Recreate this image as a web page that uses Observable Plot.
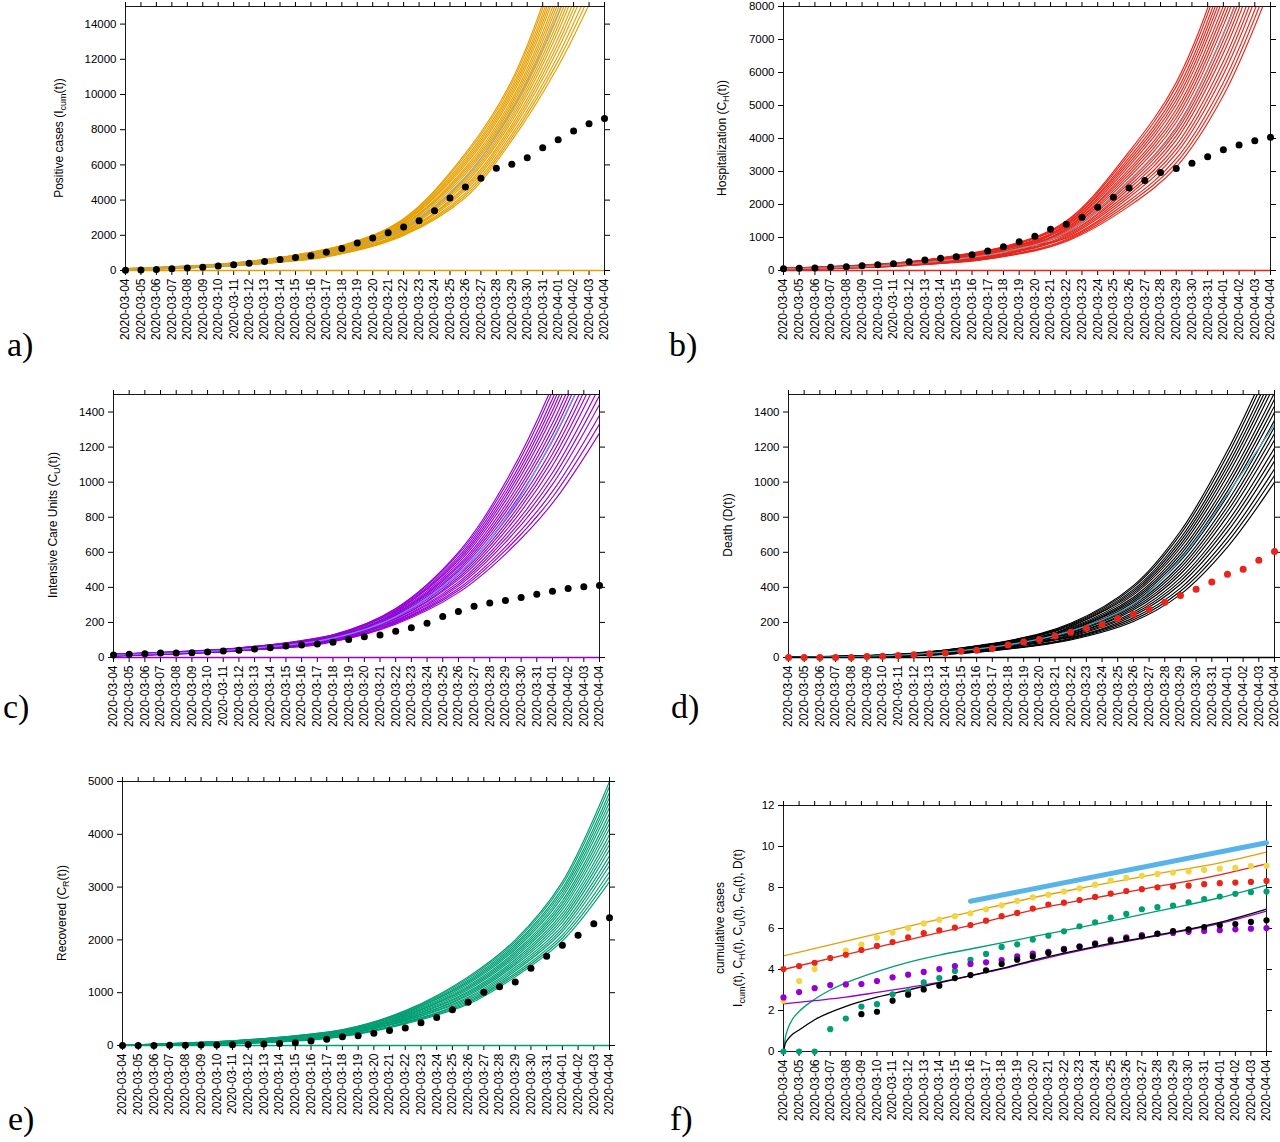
<!DOCTYPE html>
<html>
<head>
<meta charset="utf-8">
<script src="https://cdn.jsdelivr.net/npm/d3@7"></script>
<script src="https://cdn.jsdelivr.net/npm/@observablehq/plot@0.6"></script>
<style>
  html, body { margin: 0; padding: 0; background: #fff; }
  #root { position: relative; width: 1280px; height: 1142px; background: #fff; overflow: hidden; }
  .panel { position: absolute; }
  #labels { position: absolute; left: 0; top: 0; pointer-events: none; }
</style>
</head>
<body>
<div id="root"></div>
<script>
// ---------- tick labels ----------
const dates = ["2020-03-04","2020-03-05","2020-03-06","2020-03-07","2020-03-08","2020-03-09","2020-03-10","2020-03-11","2020-03-12","2020-03-13","2020-03-14","2020-03-15","2020-03-16","2020-03-17","2020-03-18","2020-03-19","2020-03-20","2020-03-21","2020-03-22","2020-03-23","2020-03-24","2020-03-25","2020-03-26","2020-03-27","2020-03-28","2020-03-29","2020-03-30","2020-03-31","2020-04-01","2020-04-02","2020-04-03","2020-04-04"];
const aTicks = [0, 2000, 4000, 6000, 8000, 10000, 12000, 14000];
const bTicks = [0, 1000, 2000, 3000, 4000, 5000, 6000, 7000, 8000];
const cTicks = [0, 200, 400, 600, 800, 1000, 1200, 1400];
const dTicks = [0, 200, 400, 600, 800, 1000, 1200, 1400];
const eTicks = [0, 1000, 2000, 3000, 4000, 5000];
const fTicks = [0, 2, 4, 6, 8, 10, 12];

// ---------- observed data (one value per day, 03-04 .. 04-04) ----------
const casesData = [12,31,56,96,137,183,257,330,416,518,620,735,845,1033,1249,1556,1840,2150,2470,2830,3400,4120,4750,5240,5810,6040,6400,6970,7430,7920,8340,8640];
const hospData  = [56,65,76,96,112,141,172,208,262,320,369,420,477,590,720,870,1040,1250,1400,1610,1920,2220,2500,2730,2970,3090,3250,3450,3660,3800,3930,4040];
const icuData   = [14,18,22,25,26,27,31,37,42,48,56,65,71,77,87,103,118,129,150,169,196,234,262,292,311,325,342,361,378,393,404,410];
const deathData = [0,0,0,0,0,6,7,12,16,21,25,36,42,52,72,88,103,123,144,165,188,222,247,275,315,353,389,431,475,503,555,604];
const recovData = [1,1,1,3,5,9,10,16,19,29,36,51,87,117,164,187,234,284,330,430,530,675,820,1010,1115,1205,1465,1690,1900,2090,2305,2420];

// ---------- ensemble runs (values at knot days) ----------
const knotDays = [0, 8, 14, 18, 22, 25, 28, 31];
const aCurves = [
  [40,330,950,1990,4150,7390,11600,17000],
  [44,340,974,2038,4275,7560,11910,17550],
  [47,349,997,2085,4400,7731,12220,18100],
  [51,360,1025,2142,4550,7936,12592,18760],
  [55,370,1049,2190,4675,8106,12902,19310],
  [103,500,1370,2237,4800,8277,13212,19860],
  [62,391,1100,2294,4950,8481,13584,20520],
  [66,400,1124,2342,5075,8652,13894,21070],
  [69,410,1147,2389,5200,8822,14204,21620],
  [107,511,1397,2437,5325,8993,14514,22170],
  [77,431,1199,2494,5475,9197,14886,22830],
  [44,340,974,2541,5600,9368,15196,23380],
  [84,450,1246,2589,5725,9538,15506,23930],
  [88,459,1270,2636,5850,9709,15816,24480],
  [47,350,1000,2693,6000,9913,16188,25140],
  [95,480,1321,2741,6125,10084,16498,25690],
  [99,490,1345,2788,6250,10254,16808,26240],
  [102,499,1368,2836,6375,10425,17118,26790],
  [107,511,1397,2893,6525,10630,17490,27450],
  [110,520,1420,2940,6650,10800,17800,28000]
];
const aCenter = [72,420,1170,2420,5300,9100,14600,22000];

const bCurves = [
  [20,150,420,880,1950,3130,5300,8600],
  [23,156,435,911,2033,3259,5500,8870],
  [25,162,450,942,2115,3387,5700,9140],
  [65,255,680,979,2214,3541,5940,9464],
  [31,175,483,1010,2297,3670,6140,9734],
  [33,181,498,1041,2379,3798,6340,10004],
  [36,188,516,1078,2478,3952,6580,10328],
  [68,262,700,1109,2561,4081,6780,10598],
  [41,200,546,1140,2643,4209,6980,10868],
  [44,206,561,1171,2726,4338,7180,11138],
  [47,214,579,1209,2825,4492,7420,11462],
  [49,220,594,1240,2907,4621,7620,11732],
  [24,160,445,1271,2990,4749,7820,12002],
  [54,232,624,1302,3072,4878,8020,12272],
  [57,239,642,1339,3171,5032,8260,12596],
  [60,245,657,1370,3254,5160,8460,12866],
  [28,170,470,1401,3336,5289,8660,13136],
  [65,257,687,1432,3419,5417,8860,13406],
  [68,264,705,1469,3518,5572,9100,13730],
  [70,270,720,1500,3600,5700,9300,14000]
];
const bCenter = [45,205,560,1150,2700,4300,7150,11000];

const cCurves = [
  [8,38,90,190,370,590,880,1280],
  [9,39,92,195,382,611,914,1331],
  [9,40,94,199,393,631,947,1382],
  [18,52,124,204,407,656,987,1443],
  [11,42,98,209,418,676,1021,1494],
  [11,42,100,213,430,697,1054,1545],
  [12,43,103,219,444,721,1094,1606],
  [19,54,128,223,455,742,1128,1657],
  [13,45,107,228,467,762,1161,1708],
  [14,46,109,232,478,783,1195,1759],
  [14,47,111,238,492,807,1235,1821],
  [9,39,92,242,503,828,1269,1872],
  [16,49,115,247,515,848,1302,1923],
  [16,50,117,251,526,869,1336,1974],
  [17,51,120,257,540,893,1376,2035],
  [10,41,96,261,552,914,1409,2086],
  [18,52,124,266,563,934,1443,2137],
  [19,53,126,270,575,955,1476,2188],
  [19,54,128,276,589,980,1517,2249],
  [20,55,130,280,600,1000,1550,2300]
];
const cCenter = [14,46,110,232,480,790,1240,1800];

const dCurves = [
  [0,10,48,100,205,360,630,1000],
  [0,11,50,105,215,378,658,1038],
  [0,12,53,110,226,396,685,1075],
  [3,23,88,115,238,418,718,1120],
  [1,13,58,120,248,436,746,1158],
  [1,14,60,125,258,454,773,1195],
  [1,15,63,130,271,475,806,1240],
  [3,24,92,135,281,493,834,1278],
  [1,16,68,140,291,511,861,1315],
  [1,17,70,145,301,529,889,1353],
  [2,18,73,150,314,551,922,1398],
  [0,11,52,155,324,569,949,1435],
  [2,19,78,160,334,587,977,1473],
  [2,20,80,165,344,605,1004,1510],
  [2,21,83,170,357,626,1037,1555],
  [0,12,55,175,367,644,1065,1593],
  [3,23,87,180,377,662,1092,1630],
  [3,23,90,185,387,680,1120,1668],
  [3,24,93,190,400,702,1153,1713],
  [3,25,95,195,410,720,1180,1750]
];
const dCenter = [1,18,72,150,305,560,930,1330];

const eCurves = [
  [0,40,170,410,780,1300,1980,3100],
  [0,44,177,423,806,1335,2036,3195],
  [1,47,183,435,832,1370,2092,3290],
  [4,100,280,450,863,1412,2159,3404],
  [1,55,197,463,889,1447,2215,3499],
  [1,58,204,475,915,1482,2271,3594],
  [2,62,212,490,946,1524,2338,3708],
  [5,106,292,503,972,1559,2394,3803],
  [2,69,225,515,998,1594,2450,3898],
  [2,73,231,528,1024,1629,2506,3993],
  [3,77,239,543,1056,1671,2574,4107],
  [0,45,178,555,1082,1706,2630,4202],
  [3,84,252,568,1108,1741,2686,4297],
  [3,88,258,580,1134,1776,2742,4392],
  [4,92,266,595,1165,1818,2809,4506],
  [1,50,190,608,1191,1853,2865,4601],
  [4,99,279,620,1217,1888,2921,4696],
  [4,102,286,633,1243,1923,2977,4791],
  [5,107,294,648,1274,1965,3044,4905],
  [5,110,300,660,1300,2000,3100,5000]
];

// ---------- panel f: log values ----------
const fIcumDots = [2.48,3.44,4.02,4.56,4.92,5.21,5.55,5.80,6.03,6.25,6.43,6.60,6.74,6.94,7.13,7.35,7.52,7.65,7.80,7.96,8.14,8.34,8.47,8.57,8.66,8.73,8.79,8.86,8.92,8.96,9.04,9.06];
const fHospDots = [4.02,4.17,4.33,4.56,4.72,4.95,5.15,5.34,5.57,5.77,5.91,6.04,6.17,6.38,6.60,6.76,6.97,7.17,7.26,7.39,7.54,7.70,7.83,7.92,8.01,8.05,8.09,8.16,8.21,8.24,8.27,8.32];
const fRecDots  = [0,0,0,1.09,1.61,2.19,2.31,2.79,2.94,3.37,3.58,3.93,4.47,4.76,5.10,5.23,5.46,5.65,5.86,6.11,6.30,6.53,6.71,6.94,7.04,7.12,7.28,7.44,7.56,7.69,7.77,7.80];
const fIcuDots  = [2.64,2.90,3.09,3.24,3.27,3.29,3.44,3.62,3.75,3.88,4.02,4.17,4.27,4.35,4.46,4.64,4.77,4.86,5.01,5.13,5.28,5.46,5.57,5.68,5.74,5.78,5.84,5.88,5.92,5.96,5.99,6.02];
const fDeathDots= [null,null,null,null,null,1.82,1.94,2.48,2.77,3.03,3.21,3.58,3.73,3.96,4.27,4.48,4.64,4.81,4.97,5.11,5.24,5.40,5.51,5.62,5.75,5.87,5.96,6.07,6.16,6.22,6.32,6.40];

const fIcumLineX = [0,4,8,12,16,20,24,28,31];
const fIcumLineY = [4.67,5.38,6.1,6.8,7.5,8.1,8.67,9.2,9.72];
const fHospLineX = [0,4,8,12,16,20,24,28,31];
const fHospLineY = [4.0,4.72,5.45,6.15,6.9,7.5,8.05,8.62,9.15];
const fRecLineX  = [0,0.1,0.3,0.6,1,2,3,4,6,8,10,12,14,16,20,24,28,31];
const fRecLineY  = [0,0.6,1.15,1.6,1.95,2.55,3.0,3.35,3.9,4.35,4.7,5.0,5.3,5.6,6.2,6.85,7.5,8.12];
const fDeathLineX= [0,0.1,0.3,0.6,1,2,4,6,8,10,12,14,16,20,24,28,31];
const fDeathLineY= [0,0.35,0.62,0.85,1.05,1.55,2.2,2.65,3.0,3.35,3.7,4.05,4.45,5.12,5.68,6.3,6.95];
const fIcuLineX  = [0,2,4,6,8,10,12,14,16,20,24,28,31];
const fIcuLineY  = [2.32,2.48,2.65,2.88,3.12,3.38,3.7,4.02,4.4,5.08,5.65,6.25,6.85];
const fSlopeX = [12, 31];
const fSlopeY = [7.33, 10.18];

// ---------- helpers ----------
const FONT = "'Liberation Sans', Arial, Helvetica, sans-serif";
const dayIdx = dates.map((d, i) => i);
const intFmt = d3.format("d");

function axes(yTicks) {
  return [
    Plot.frame({stroke: "#1a1a1a", strokeWidth: 1}),
    Plot.axisX({anchor: "bottom", ticks: dayIdx, tickFormat: i => dates[i], tickRotate: -90, tickSize: 5, tickPadding: 3, label: null, fontSize: 12}),
    Plot.axisX({anchor: "top", ticks: dayIdx, tickFormat: () => "", tickSize: 5, label: null}),
    Plot.axisY({anchor: "left", ticks: yTicks, tickFormat: intFmt, tickSize: 5, tickPadding: 4, label: null}),
    Plot.axisY({anchor: "right", ticks: yTicks, tickFormat: () => "", tickSize: 5, label: null})
  ];
}

function place(svg, left, top) {
  const wrap = document.createElement("div");
  wrap.className = "panel";
  wrap.style.left = left + "px";
  wrap.style.top = top + "px";
  wrap.appendChild(svg);
  document.getElementById("root").appendChild(wrap);
}

// rotated axis label built from segments [text, isSub]
function yLabel(svg, x, y, segs) {
  const t = d3.select(svg).append("text")
    .attr("transform", `translate(${x},${y}) rotate(-90)`)
    .attr("text-anchor", "middle")
    .attr("font-family", FONT)
    .attr("font-size", 12)
    .attr("fill", "#000");
  let sub = false;
  segs.forEach(([s, isSub]) => {
    const sp = t.append("tspan").text(s);
    if (isSub && !sub) { sp.attr("dy", 3).attr("font-size", 9); sub = true; }
    else if (isSub) { sp.attr("font-size", 9); }
    else if (!isSub && sub) { sp.attr("dy", -3); sub = false; }
  });
}

function ensemblePanel({curves, center, color, centerColor, data, dotColor, yMax, yTicks, left, top, width, height, mt, mb, ml, mr}) {
  const runs = curves.flatMap((c, i) => c.map((v, j) => ({x: knotDays[j], y: v, run: i})));
  const mid = center ? center.map((v, j) => ({x: knotDays[j], y: v})) : [];
  const obs = data.map((v, i) => ({x: i, y: v}));
  const svg = Plot.plot({
    width, height, marginTop: mt, marginBottom: mb, marginLeft: ml, marginRight: mr,
    style: {fontFamily: FONT, fontSize: "11.5px", color: "#000", background: "transparent", overflow: "visible"},
    x: {domain: [0, 31]},
    y: {domain: [0, yMax]},
    marks: [
      Plot.line(runs, {x: "x", y: "y", z: "run", stroke: color, strokeWidth: 1.15, curve: "catmull-rom", clip: true}),
      center ? Plot.line(mid, {x: "x", y: "y", stroke: centerColor, strokeWidth: 1.3, curve: "catmull-rom", clip: true}) : null,
      ...axes(yTicks),
      Plot.ruleY([0], {stroke: color, strokeWidth: 1.5}),
      Plot.dot(obs, {x: "x", y: "y", r: 3.5, fill: dotColor, stroke: "none"})
    ]
  });
  place(svg, left, top);
  return svg;
}

// ---------- panels ----------
const svgA = ensemblePanel({curves: aCurves, center: aCenter, color: "#E69F00", centerColor: "#a5ad8e", data: casesData, dotColor: "#000",
  yMax: 15000, yTicks: aTicks, left: 0, top: 0, width: 640, height: 360, mt: 6, mb: 90, ml: 125, mr: 36});
yLabel(svgA, 63, 138, [["Positive cases (I", false], ["cum", true], ["(t))", false]]);

const svgB = ensemblePanel({curves: bCurves, center: bCenter, color: "#e8251a", centerColor: "#a08c9c", data: hospData, dotColor: "#000",
  yMax: 8000, yTicks: bTicks, left: 640, top: 0, width: 640, height: 360, mt: 6, mb: 90, ml: 143, mr: 10});
yLabel(svgB, 86, 138, [["Hospitalization (C", false], ["H", true], ["(t))", false]]);

const svgC = ensemblePanel({curves: cCurves, center: cCenter, color: "#9400d3", centerColor: "#6a8ff0", data: icuData, dotColor: "#000",
  yMax: 1500, yTicks: cTicks, left: 0, top: 380, width: 640, height: 380, mt: 14, mb: 103, ml: 113, mr: 41});
yLabel(svgC, 56.5, 145, [["Intensive Care Units (C", false], ["U", true], ["(t))", false]]);

const svgD = ensemblePanel({curves: dCurves, center: dCenter, color: "#000", centerColor: "#4ba3c6", data: deathData, dotColor: "#e8251a",
  yMax: 1500, yTicks: dTicks, left: 640, top: 380, width: 640, height: 380, mt: 14, mb: 103, ml: 148, mr: 6});
yLabel(svgD, 92, 145, [["Death (D(t))", false]]);

const svgE = ensemblePanel({curves: eCurves, center: null, color: "#009e73", centerColor: null, data: recovData, dotColor: "#000",
  yMax: 5000, yTicks: eTicks, left: 0, top: 770, width: 640, height: 372, mt: 11, mb: 97, ml: 122, mr: 31});
yLabel(svgE, 65.5, 143, [["Recovered (C", false], ["R", true], ["(t))", false]]);

// panel f
function lineRows(xs, ys) { return xs.map((x, i) => ({x, y: ys[i]})); }
function dotRows(ys) { return ys.map((y, i) => ({x: i, y})).filter(d => d.y != null); }
const svgF = Plot.plot({
  width: 640, height: 362, marginTop: 25, marginBottom: 91, marginLeft: 143, marginRight: 14,
  style: {fontFamily: FONT, fontSize: "11.5px", color: "#000", background: "transparent", overflow: "visible"},
  x: {domain: [0, 31]},
  y: {domain: [0, 12]},
  marks: [
    Plot.line(lineRows(fIcumLineX, fIcumLineY), {x: "x", y: "y", stroke: "#E69F00", strokeWidth: 1.3, curve: "monotone-x"}),
    Plot.line(lineRows(fHospLineX, fHospLineY), {x: "x", y: "y", stroke: "#e8251a", strokeWidth: 1.3, curve: "monotone-x"}),
    Plot.line(lineRows(fRecLineX, fRecLineY), {x: "x", y: "y", stroke: "#009e73", strokeWidth: 1.3, curve: "monotone-x"}),
    Plot.line(lineRows(fIcuLineX, fIcuLineY), {x: "x", y: "y", stroke: "#9400d3", strokeWidth: 1.3, curve: "monotone-x"}),
    Plot.line(lineRows(fDeathLineX, fDeathLineY), {x: "x", y: "y", stroke: "#000", strokeWidth: 1.3, curve: "monotone-x"}),
    ...axes(fTicks),
    Plot.dot(dotRows(fIcumDots), {x: "x", y: "y", r: 3.1, fill: "#f0d545", stroke: "none"}),
    Plot.dot(dotRows(fHospDots), {x: "x", y: "y", r: 3.1, fill: "#e8251a", stroke: "none"}),
    Plot.dot(dotRows(fRecDots), {x: "x", y: "y", r: 3.1, fill: "#009e73", stroke: "none"}),
    Plot.dot(dotRows(fIcuDots), {x: "x", y: "y", r: 3.1, fill: "#9400d3", stroke: "none"}),
    Plot.dot(dotRows(fDeathDots), {x: "x", y: "y", r: 3.1, fill: "#000", stroke: "none"}),
    Plot.line(lineRows(fSlopeX, fSlopeY), {x: "x", y: "y", stroke: "#56B4E9", strokeWidth: 5})
  ]
});
place(svgF, 640, 780);
yLabel(svgF, 84, 148, [["cumulative cases", false]]);
yLabel(svgF, 101.5, 148, [["I", false], ["cum", true], ["(t), C", false], ["H", true], ["(t), C", false], ["U", true], ["(t), C", false], ["R", true], ["(t), D(t)", false]]);

// ---------- panel letters ----------
const letters = [
  {t: "a)", x: 7, y: 356},
  {t: "b)", x: 669, y: 356},
  {t: "c)", x: 3, y: 718},
  {t: "d)", x: 671, y: 718},
  {t: "e)", x: 8, y: 1130},
  {t: "f)", x: 670, y: 1130}
];
const ov = d3.select("#root").append("svg").attr("id", "labels").attr("width", 1280).attr("height", 1142);
ov.selectAll("text").data(letters).join("text")
  .attr("x", d => d.x).attr("y", d => d.y)
  .attr("font-family", "'Liberation Serif', 'Times New Roman', serif")
  .attr("font-size", 34)
  .attr("fill", "#000")
  .text(d => d.t);
</script>
</body>
</html>
